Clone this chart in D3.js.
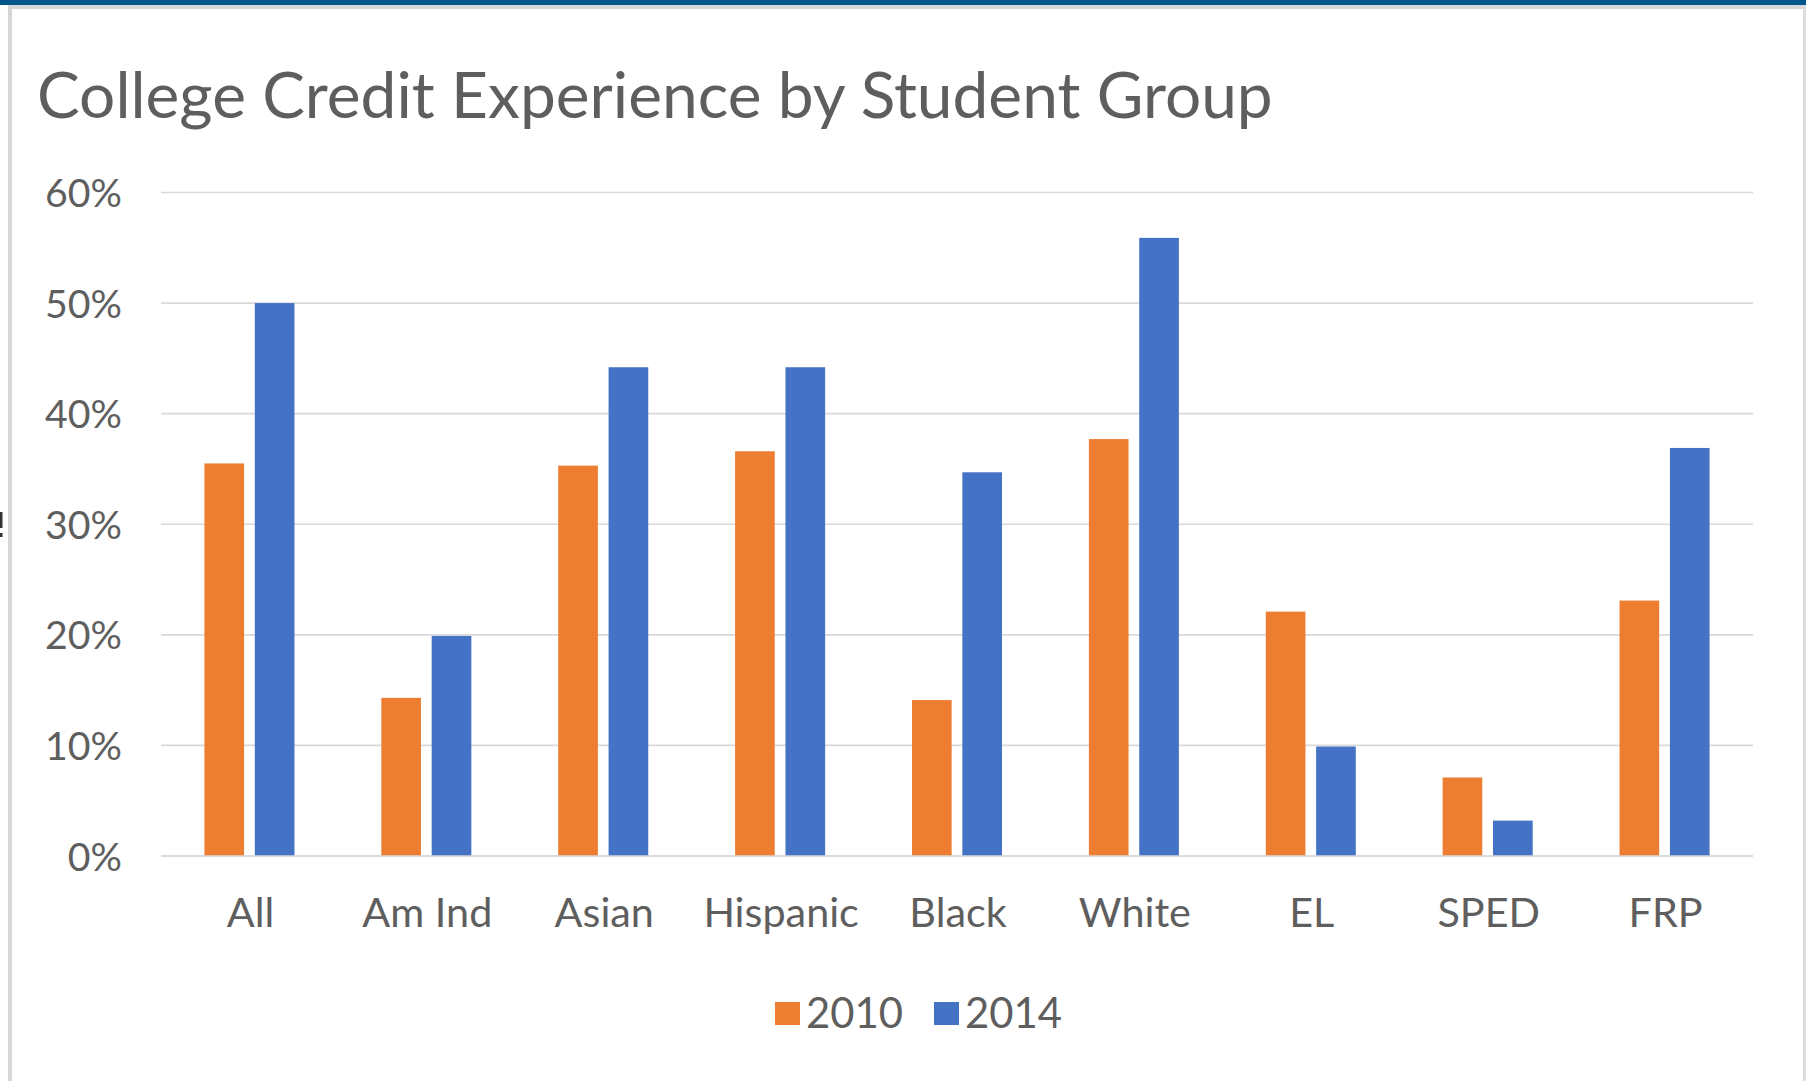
<!DOCTYPE html>
<html>
<head>
<meta charset="utf-8">
<script src="https://cdn.jsdelivr.net/npm/d3@7"></script>
<style>
  html, body { margin: 0; padding: 0; background: #ffffff; }
  svg { display: block; }
  text { font-family: Lato, "Open Sans", "Noto Sans", sans-serif; fill: #5e5e5e; }
</style>
</head>
<body>
<svg id="chart" width="1806" height="1081"></svg>
<script>
// ---- data ----
const title = "College Credit Experience by Student Group";
const categories = ["All", "Am Ind", "Asian", "Hispanic", "Black", "White", "EL", "SPED", "FRP"];
const seriesNames = ["2010", "2014"];
const values2010 = [35.5, 14.3, 35.3, 36.6, 14.1, 37.7, 22.1, 7.1, 23.1];
const values2014 = [50.0, 19.9, 44.2, 44.2, 34.7, 55.9, 9.9, 3.2, 36.9];
const yTicks = [0, 10, 20, 30, 40, 50, 60];
const seriesColors = ["#ED7D31", "#4472C4"];

const svg = d3.select("#chart");
const W = 1806, H = 1081;

// ---- frame ----
svg.append("rect").attr("x", 0).attr("y", 0).attr("width", W).attr("height", H).attr("fill", "#ffffff");
svg.append("rect").attr("x", 0).attr("y", 0).attr("width", W).attr("height", 5).attr("fill", "#00558F");
svg.append("rect").attr("x", 8).attr("y", 5).attr("width", W - 8).attr("height", 4).attr("fill", "#d6d6d6");
svg.append("rect").attr("x", 8).attr("y", 5).attr("width", 4).attr("height", H - 5).attr("fill", "#d6d6d6");
svg.append("rect").attr("x", 1803).attr("y", 5).attr("width", 3).attr("height", H - 5).attr("fill", "#dcdcdc");
// stray dark fragment at the far left edge (decoration from the source screenshot)
svg.append("rect").attr("x", 0).attr("y", 512).attr("width", 2.5).attr("height", 16).attr("fill", "#333");
svg.append("rect").attr("x", 0).attr("y", 533).attr("width", 2.5).attr("height", 4).attr("fill", "#333");

// ---- scales ----
const plotLeft = 161, plotRight = 1753, yZero = 856, yTop = 192.5;
const x = d3.scaleBand().domain(categories).range([plotLeft, plotRight]).padding(0);
const gapWidth = 2.19, overlap = -0.27;
const x1 = d3.scaleBand().domain(seriesNames).range([0, x.bandwidth()])
  .paddingInner((-overlap) / (1 + (-overlap)))
  .paddingOuter((gapWidth / 2) / (1 + (-overlap)));
const y = d3.scaleLinear().domain([0, 60]).range([yZero, yTop]);

// helper: fit font size so that the text advance width matches a target
function fitSize(str, targetWidth) {
  const t = svg.append("text").style("font-size", "100px").text(str);
  const w = t.node().getComputedTextLength();
  t.remove();
  return 100 * targetWidth / w;
}

// ---- gridlines ----
const grid = svg.append("g");
grid.selectAll("line").data(yTicks).join("line")
  .attr("x1", plotLeft).attr("x2", plotRight)
  .attr("y1", d => y(d)).attr("y2", d => y(d))
  .attr("stroke", "#d9d9d9").attr("stroke-width", 1.6);

// ---- bars ----
const rows = categories.map((c, i) => ({ c, vals: [values2010[i], values2014[i]] }));
const groups = svg.append("g").selectAll("g").data(rows).join("g")
  .attr("transform", d => `translate(${x(d.c)},0)`);
groups.selectAll("rect").data(d => d.vals.map((v, k) => ({ s: seriesNames[k], v, k })))
  .join("rect")
  .attr("x", d => x1(d.s))
  .attr("width", x1.bandwidth())
  .attr("y", d => y(d.v))
  .attr("height", d => yZero - y(d.v))
  .attr("fill", d => seriesColors[d.k]);

// baseline axis line
svg.append("line").attr("x1", plotLeft).attr("x2", plotRight)
  .attr("y1", yZero).attr("y2", yZero).attr("stroke", "#d9d9d9").attr("stroke-width", 1.6);

// ---- y axis labels ----
const ySize = fitSize("60%", 77);
const yAxis = d3.axisLeft(y).tickValues(yTicks).tickFormat(d => d + "%").tickSize(0).tickPadding(0);
const yg = svg.append("g").attr("transform", "translate(122,0)").call(yAxis);
yg.select(".domain").remove();
yg.selectAll("text").style("font-size", ySize + "px").style("font-family", null)
  .attr("fill", null).attr("dy", null).attr("y", ySize * 0.358);

// ---- x axis labels ----
const xSize = fitSize("Am Ind", 130);
const xAxis = d3.axisBottom(x).tickSize(0).tickPadding(0);
const xg = svg.append("g").attr("transform", "translate(1,927)").call(xAxis);
xg.select(".domain").remove();
xg.selectAll("text").style("font-size", xSize + "px").style("font-family", null)
  .attr("fill", null).attr("dy", null).attr("y", 0);

// ---- title ----
const tSize = fitSize(title, 1236);
svg.append("text").attr("x", 37).attr("y", 118).style("font-size", tSize + "px").text(title);

// ---- legend ----
const lSize = fitSize("2010", 97);
const legendX = [775, 934];
const leg = svg.append("g").selectAll("g").data(seriesNames).join("g")
  .attr("transform", (d, i) => `translate(${legendX[i]},0)`);
leg.append("rect").attr("x", 0).attr("y", 1002).attr("width", 25).attr("height", 23)
  .attr("fill", (d, i) => seriesColors[i]);
leg.append("text").attr("x", 31).attr("y", 1028).style("font-size", lSize + "px").text(d => d);
</script>
</body>
</html>
